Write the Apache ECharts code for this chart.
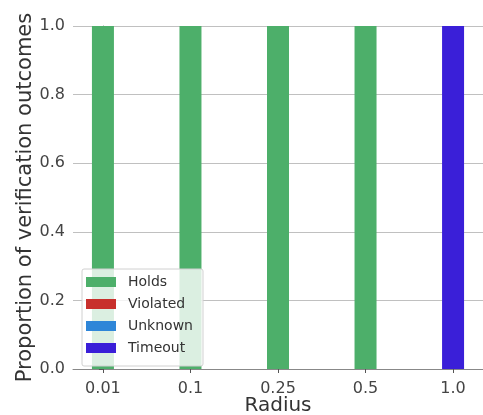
<!DOCTYPE html>
<html><head><meta charset="utf-8">
<script src="https://cdn.jsdelivr.net/npm/echarts@6/dist/echarts.min.js"></script>
<style>html,body{margin:0;padding:0;background:#fff}#c{width:483px;height:415px}</style>
</head><body><div id="c"></div>
<script>
var categories = ['0.01', '0.1', '0.25', '0.5', '1.0'];
var holds = [1, 1, 1, 1, 0];
var violated = [0, 0, 0, 0, 0];
var unknown = [0, 0, 0, 0, 0];
var timeout = [0, 0, 0, 0, 1];
var yTicks = [0, 0.2, 0.4, 0.6, 0.8, 1.0];

var names = ['Holds', 'Violated', 'Unknown', 'Timeout'];
var colors = ['#4DAF6A', '#C8302C', '#2E86D8', '#3A1FD8'];
var values = [holds, violated, unknown, timeout];
var idx = categories.map(function (c, i) { return i; });

var series = names.map(function (n, k) {
  return {
    name: n, type: 'bar', stack: 'all', barWidth: 22,
    itemStyle: { color: colors[k] },
    data: values[k].map(function (v, i) { return [i, v]; })
  };
});

var chart = echarts.init(document.getElementById('c'));
chart.setOption({
  animation: false,
  color: colors,
  grid: { left: 73, top: 26, right: 0, bottom: 46, containLabel: false, outerBoundsMode: 'none' },
  legend: {
    orient: 'vertical', left: 82, top: 269,
    data: names,
    itemWidth: 30, itemHeight: 10, itemGap: 8,
    backgroundColor: 'rgba(255,255,255,0.8)',
    borderColor: '#d0d0d0', borderWidth: 1, borderRadius: 2,
    padding: [6, 10, 11, 4],
    textStyle: { fontSize: 14, lineHeight: 14, color: '#333', fontFamily: 'DejaVu Sans', padding: [0, 0, 0, 7] },
    icon: 'rect'
  },
  xAxis: {
    type: 'value', min: -0.342, max: 4.342,
    name: 'Radius', nameLocation: 'middle', nameGap: 27, nameMoveOverlap: false,
    nameTextStyle: { fontSize: 20, color: '#333', fontFamily: 'DejaVu Sans' },
    axisLine: { show: true, lineStyle: { color: '#888', width: 1 } },
    axisTick: { show: true, customValues: idx, length: 4, lineStyle: { color: '#555' } },
    axisLabel: { customValues: idx, fontSize: 16, color: '#444', margin: 12, fontFamily: 'DejaVu Sans',
      formatter: function (v) { return categories[Math.round(v)]; } },
    splitLine: { show: false }
  },
  yAxis: {
    type: 'value', min: 0, max: 1, interval: 0.2,
    name: 'Proportion of verification outcomes', nameLocation: 'middle', nameGap: 37, nameMoveOverlap: false,
    nameTextStyle: { fontSize: 21, color: '#333', fontFamily: 'DejaVu Sans' },
    axisLine: { show: true, lineStyle: { color: '#888', width: 1 } },
    axisTick: { show: true, length: 4, lineStyle: { color: '#555' } },
    axisLabel: { fontSize: 16, color: '#444', margin: 8, fontFamily: 'DejaVu Sans',
      formatter: function (v) { return v.toFixed(1); } },
    splitLine: { show: true, lineStyle: { color: '#c0c0c0', width: 1 } }
  },
  series: series
});
</script></body></html>
